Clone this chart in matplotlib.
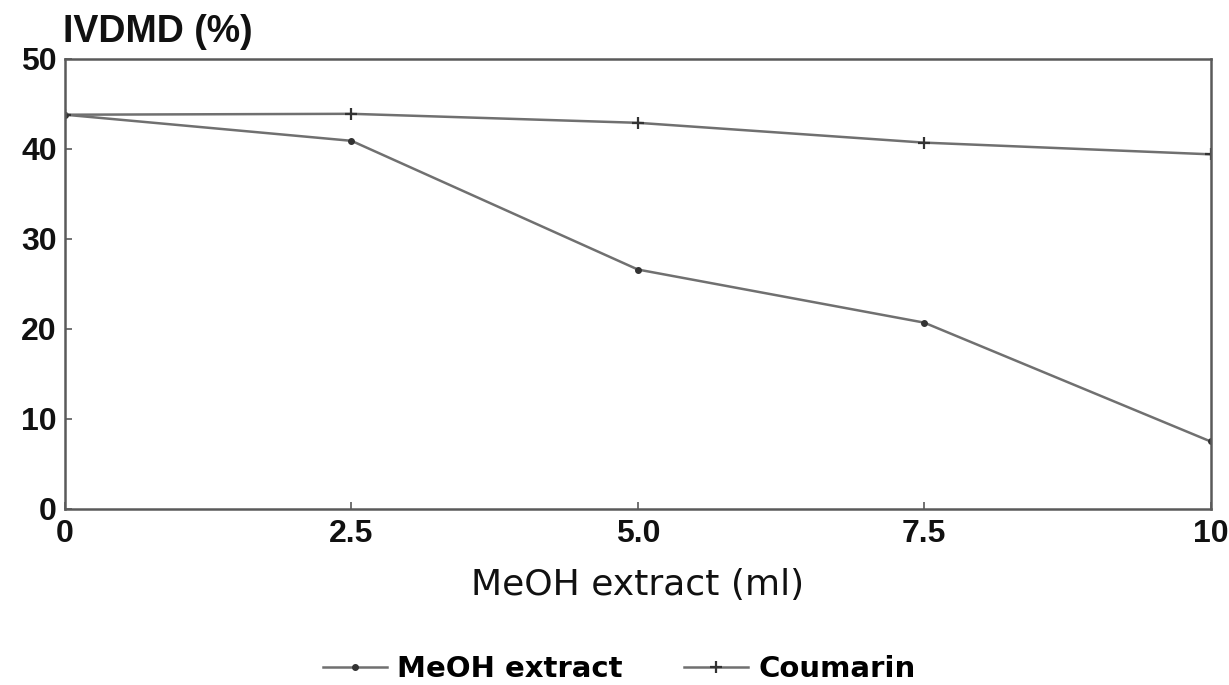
import matplotlib
matplotlib.use('Agg')
import matplotlib.pyplot as plt

plt.rcParams['font.family'] = ['Liberation Sans', 'DejaVu Sans']

# Data
meoh_ml = [0, 2.5, 5.0, 7.5, 10]
ivdmd_meoh = [43.8, 40.9, 26.6, 20.7, 7.5]
ivdmd_coumarin = [43.8, 43.9, 42.9, 40.7, 39.4]
x_tick_labels = ['0', '2.5', '5.0', '7.5', '10']
y_ticks = [0, 10, 20, 30, 40, 50]

fig = plt.figure(figsize=(12.29, 6.85), dpi=100)
ax = fig.add_axes([0.053, 0.257, 0.932, 0.657])

line_color = '#707070'
ax.plot(meoh_ml, ivdmd_meoh, color=line_color, lw=1.8,
        marker='o', markersize=4, markerfacecolor='#333333',
        markeredgecolor='#333333', label='MeOH extract')
ax.plot(meoh_ml, ivdmd_coumarin, color=line_color, lw=1.8,
        marker='+', markersize=9, markeredgewidth=1.6,
        markeredgecolor='#333333', label='Coumarin')

ax.set_xlim(0, 10)
ax.set_ylim(0, 50)
ax.set_xticks(meoh_ml)
ax.set_xticklabels(x_tick_labels)
ax.set_yticks(y_ticks)

for side in ['top', 'bottom', 'left', 'right']:
    ax.spines[side].set_color('#5a5a5a')
    ax.spines[side].set_linewidth(1.8)

ax.tick_params(axis='both', direction='in', length=5, width=1.2,
               colors='#5a5a5a', labelcolor='#111111', labelsize=23)
ax.tick_params(axis='x', pad=7)
ax.tick_params(axis='y', pad=6)
for lbl in ax.get_xticklabels() + ax.get_yticklabels():
    lbl.set_fontweight('bold')

ax.set_xlabel('MeOH extract (ml)', fontsize=26, color='#111111',
              family='DejaVu Sans', labelpad=14)
ax.text(-0.002, 1.02, 'IVDMD (%)', transform=ax.transAxes, fontsize=27,
        fontweight='bold', color='#111111', ha='left', va='bottom')

fig.legend(loc='lower center', bbox_to_anchor=(0.504, -0.035), ncol=2,
           frameon=False, handlelength=2.2, columnspacing=2.1,
           handletextpad=0.35,
           prop={'family': 'DejaVu Sans', 'weight': 'bold', 'size': 21})

plt.savefig('out.png', dpi=100)
